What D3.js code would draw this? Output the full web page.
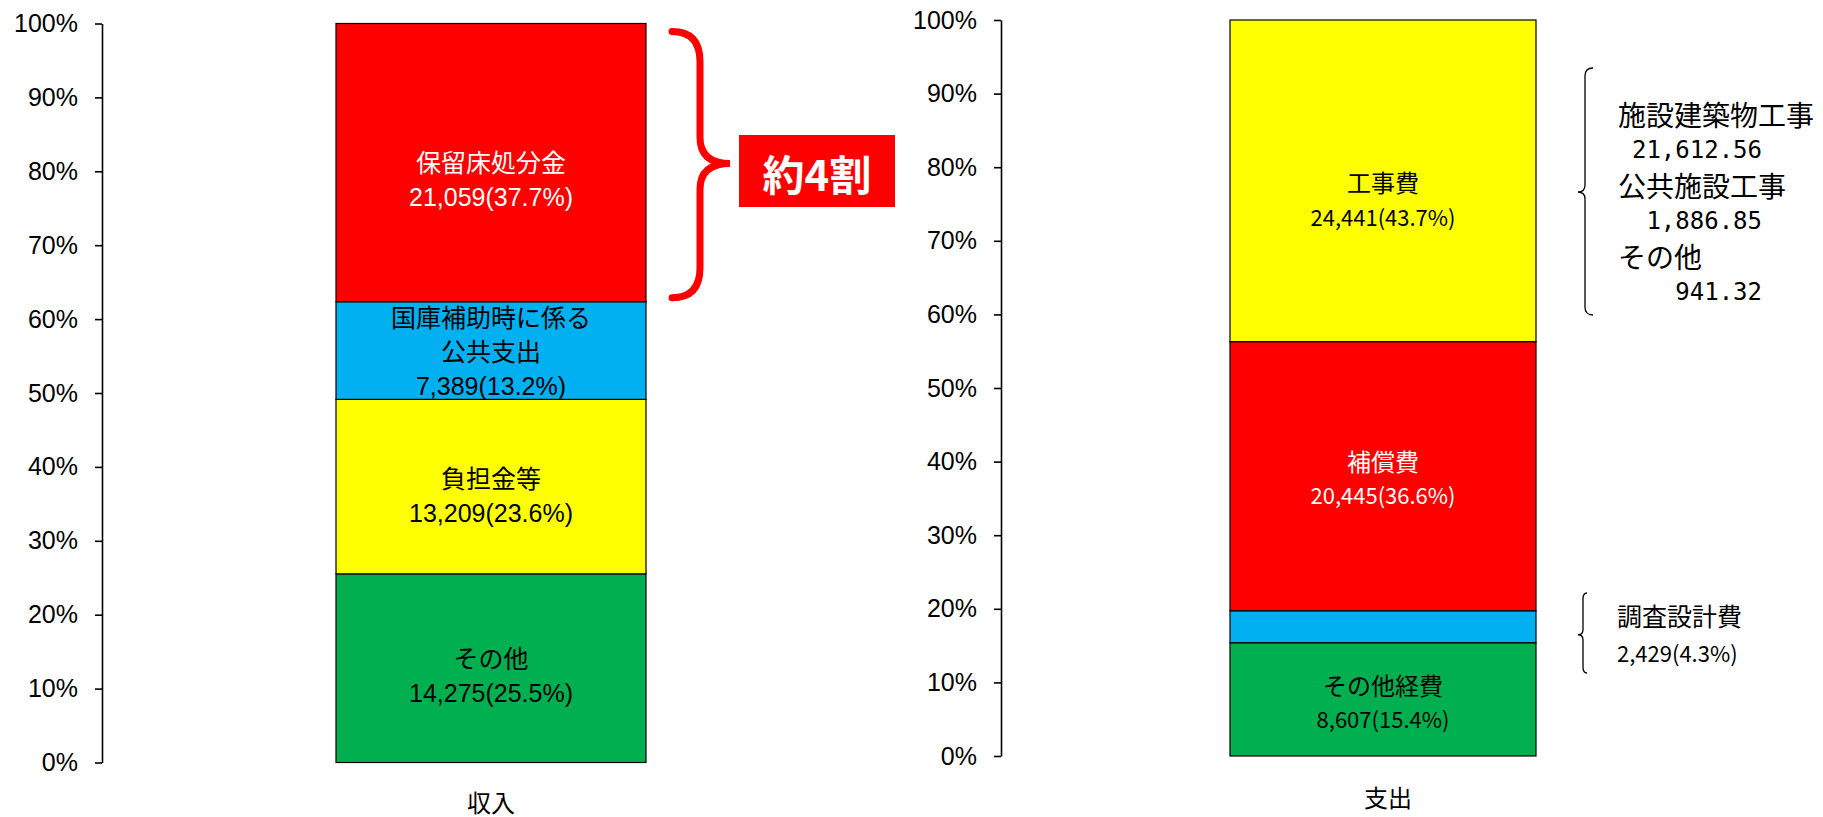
<!DOCTYPE html>
<html><head><meta charset="utf-8">
<script src="https://cdn.jsdelivr.net/npm/d3@7/dist/d3.min.js"></script>
<style>body{margin:0;background:#fff;} svg{display:block;}</style>
</head><body>
<svg id="chart" width="1823" height="817"></svg>
<script>
// ---------- data ----------
const incomeCategory = ["収入"];
const incomeNames = ["その他", "負担金等", "国庫補助時に係る公共支出", "保留床処分金"];
const incomeLabelLines = [["その他"], ["負担金等"], ["国庫補助時に係る", "公共支出"], ["保留床処分金"]];
const incomeValues = [14275, 13209, 7389, 21059];
const incomePercents = [25.5, 23.6, 13.2, 37.7];

const expenseCategory = ["支出"];
const expenseNames = ["その他経費", "調査設計費", "補償費", "工事費"];
const expenseValues = [8607, 2429, 20445, 24441];
const expensePercents = [15.4, 4.3, 36.6, 43.7];

const yTicks = [0, 0.1, 0.2, 0.3, 0.4, 0.5, 0.6, 0.7, 0.8, 0.9, 1.0];
const yTickLabels = ["0%", "10%", "20%", "30%", "40%", "50%", "60%", "70%", "80%", "90%", "100%"];

const workBreakdownNames = ["施設建築物工事", "公共施設工事", "その他"];
const workBreakdownValues = [21612.56, 1886.85, 941.32];
const calloutText = "約4割";

// ---------- styles / layout ----------
const incomeColors = ["#00B050", "#FFFF00", "#00B0F0", "#FF0000"];
const incomeTextColors = ["#000", "#000", "#000", "#fff"];
const incomeLabelDy = [8, 9, 1, 17];
const expenseColors = ["#00B050", "#00B0F0", "#FF0000", "#FFFF00"];
const expenseTextColors = ["#000", null, "#fff", "#000"];
const expenseLabelDy = [2, 0, 1, 18];

const svg = d3.select("#chart");
const fmtInt = d3.format(",");
const fmt2 = d3.format(",.2f");

function stackOf(names, values) {
  const row = {};
  names.forEach((n, i) => row[n] = values[i]);
  return d3.stack().keys(names).offset(d3.stackOffsetExpand)([row]);
}

function drawChart(cfg) {
  const y = d3.scaleLinear().domain([0, 1]).range(cfg.yRange);
  const x = d3.scaleBand().domain(cfg.category).range(cfg.xRange).padding(0);
  const g = svg.append("g");

  const axis = g.append("g")
    .attr("transform", `translate(${cfg.axisX},0)`)
    .call(d3.axisLeft(y).tickValues(yTicks).tickFormat((d, i) => yTickLabels[i])
      .tickSize(7).tickSizeOuter(0).tickPadding(17));
  axis.selectAll("path,line").attr("stroke", "#000").attr("stroke-width", 1.6);
  axis.selectAll("text").attr("font-family", "'Liberation Sans', Arial, sans-serif")
    .attr("font-size", 25).attr("fill", "#000");

  const series = stackOf(cfg.names, cfg.values);
  const cat = cfg.category[0];
  g.selectAll("rect.seg").data(series).join("rect")
    .attr("class", "seg")
    .attr("x", x(cat)).attr("width", x.bandwidth())
    .attr("y", d => y(d[0][1])).attr("height", d => y(d[0][0]) - y(d[0][1]))
    .attr("fill", (d, i) => cfg.colors[i])
    .attr("stroke", "#000").attr("stroke-width", 1.2);

  const cx = x(cat) + x.bandwidth() / 2;
  series.forEach((d, i) => {
    if (!cfg.textColors[i]) return;
    const lines = cfg.lines[i].concat([fmtInt(cfg.values[i]) + "(" + cfg.percents[i].toFixed(1) + "%)"]);
    const mid = (y(d[0][0]) + y(d[0][1])) / 2 + cfg.labelDy[i];
    const n = lines.length;
    lines.forEach((t, j) => {
      const isNum = j === n - 1;
      g.append("text")
        .attr("x", cx)
        .attr("y", mid + (j - (n - 1) / 2) * cfg.lineGap)
        .attr("text-anchor", "middle")
        .attr("dominant-baseline", "central")
        .attr("font-family", cfg.font)
        .attr("font-size", isNum ? cfg.numSize : cfg.cjkSize)
        .attr("fill", cfg.textColors[i])
        .text(t);
    });
  });

  g.append("text")
    .attr("x", cx + cfg.catDx).attr("y", cfg.catY)
    .attr("text-anchor", "middle").attr("dominant-baseline", "central")
    .attr("font-family", "'Noto Sans CJK JP', sans-serif").attr("font-size", 24)
    .attr("fill", "#000").text(cat);

  return { x, y, series };
}

const left = drawChart({
  category: incomeCategory, names: incomeNames, values: incomeValues, percents: incomePercents,
  lines: incomeLabelLines, colors: incomeColors, textColors: incomeTextColors, labelDy: incomeLabelDy,
  yRange: [762.5, 23.5], xRange: [336, 646], axisX: 102, lineGap: 34,
  font: "'Liberation Sans', Arial, 'Noto Sans CJK JP', sans-serif", numSize: 25, cjkSize: 25,
  catY: 801, catDx: 0
});

const right = drawChart({
  category: expenseCategory, names: expenseNames, values: expenseValues, percents: expensePercents,
  lines: expenseNames.map(n => [n]), colors: expenseColors, textColors: expenseTextColors, labelDy: expenseLabelDy,
  yRange: [756, 20], xRange: [1230, 1536], axisX: 1001, lineGap: 34,
  font: "'Noto Sans CJK JP', sans-serif", numSize: 22, cjkSize: 24,
  catY: 796, catDx: 5
});

// ---------- braces ----------
function bracePath(x0, xs, x1, yTop, yMid, yBot, r, rm) {
  return `M${x0},${yTop} Q${xs},${yTop} ${xs},${yTop + r} L${xs},${yMid - rm} Q${xs},${yMid} ${x1},${yMid}` +
         ` Q${xs},${yMid} ${xs},${yMid + rm} L${xs},${yBot - r} Q${xs},${yBot} ${x0},${yBot}`;
}

// red brace over 保留床処分金 segment
const redSeg = left.series[3][0];
const rTop = left.y(redSeg[1]) + 8, rBot = left.y(redSeg[0]) - 4;
svg.append("path")
  .attr("d", bracePath(672, 700, 730, rTop, (rTop + rBot) / 2 - 1, rBot, 30, 26))
  .attr("fill", "none").attr("stroke", "#FF0000").attr("stroke-width", 7).attr("stroke-linecap", "round");

svg.append("rect").attr("x", 739).attr("y", 135).attr("width", 156).attr("height", 72).attr("fill", "#FF0000");
svg.append("text").attr("x", 817).attr("y", 172)
  .attr("text-anchor", "middle").attr("dominant-baseline", "central")
  .attr("font-family", "'Noto Sans CJK JP', sans-serif").attr("font-weight", 700)
  .attr("font-size", 42).attr("fill", "#fff").text(calloutText);

// black brace: 工事費 breakdown
svg.append("path")
  .attr("d", bracePath(1593, 1585, 1578, 68, 192, 315, 8, 7))
  .attr("fill", "none").attr("stroke", "#000").attr("stroke-width", 1.3);

const bd = svg.append("g");
workBreakdownNames.forEach((n, i) => {
  const y0 = 114 + i * 71;
  bd.append("text").attr("x", 1618).attr("y", y0).attr("dominant-baseline", "central")
    .attr("font-family", "'Noto Sans CJK JP', sans-serif").attr("font-size", 28).attr("fill", "#000").text(n);
  bd.append("text").attr("x", 1762).attr("y", y0 + 36).attr("text-anchor", "end").attr("dominant-baseline", "central")
    .attr("font-family", "'DejaVu Sans Mono', monospace").attr("font-size", 24).attr("fill", "#000")
    .text(fmt2(workBreakdownValues[i]));
});

// black brace: 調査設計費
const blueSeg = right.series[1][0];
const bMid = (right.y(blueSeg[0]) + right.y(blueSeg[1])) / 2 + 8;
svg.append("path")
  .attr("d", bracePath(1587, 1583, 1578, 593, bMid, 673, 6, 5))
  .attr("fill", "none").attr("stroke", "#000").attr("stroke-width", 1.3);
svg.append("text").attr("x", 1617).attr("y", 615).attr("dominant-baseline", "central")
  .attr("font-family", "'Noto Sans CJK JP', sans-serif").attr("font-size", 25).attr("fill", "#000")
  .text(expenseNames[1]);
svg.append("text").attr("x", 1617).attr("y", 652).attr("dominant-baseline", "central")
  .attr("font-family", "'Noto Sans CJK JP', sans-serif").attr("font-size", 22).attr("fill", "#000")
  .text(fmtInt(expenseValues[1]) + "(" + expensePercents[1].toFixed(1) + "%)");
</script>
</body></html>
